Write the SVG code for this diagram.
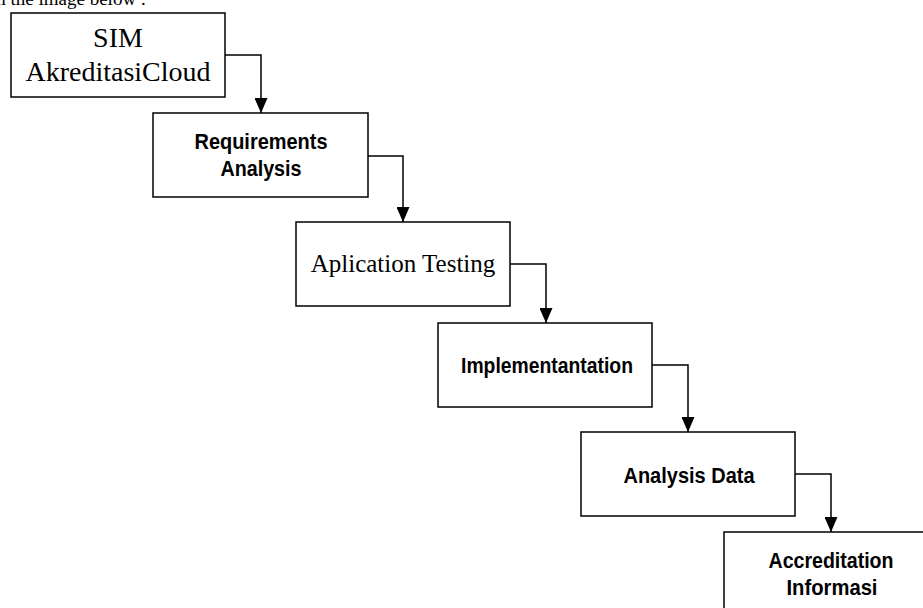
<svg xmlns="http://www.w3.org/2000/svg" width="923" height="608" viewBox="0 0 923 608">
  <style>
    .box { fill: #ffffff; stroke: #000000; stroke-width: 1.5; }
    .serif { font-family: "Liberation Serif", "Times New Roman", serif; fill: #000; text-anchor: middle; }
    .sans { font-family: "Liberation Sans", Arial, sans-serif; font-weight: bold; font-size: 21.5px; fill: #000; text-anchor: middle; }
    .conn { fill: none; stroke: #000000; stroke-width: 1.5; marker-end: url(#arrow); }
  </style>
  <defs>
    <marker id="arrow" markerWidth="13" markerHeight="16" refX="6.5" refY="15" orient="0" markerUnits="userSpaceOnUse" viewBox="0 0 13 16">
      <path d="M0,0 L13,0 L6.5,15 Z" fill="#000"/>
    </marker>
  </defs>
  <rect width="923" height="608" fill="#ffffff"/>
  <text x="-9" y="5" font-family="Liberation Serif, Times New Roman, serif" font-size="19" fill="#000">in the image below :</text>

  <g id="node-sim">
    <rect class="box" x="11" y="13" width="214" height="84"/>
    <text class="serif" x="118" y="47" font-size="28">SIM</text>
    <text class="serif" x="118" y="81" font-size="28">AkreditasiCloud</text>
  </g>
  <g id="node-requirements">
    <rect class="box" x="153" y="113" width="215" height="84"/>
    <text class="sans" x="261" y="149" textLength="133" lengthAdjust="spacingAndGlyphs">Requirements</text>
    <text class="sans" x="261" y="176" textLength="81" lengthAdjust="spacingAndGlyphs">Analysis</text>
  </g>
  <g id="node-testing">
    <rect class="box" x="296" y="222" width="214" height="84"/>
    <text class="serif" x="403" y="272" font-size="25">Aplication Testing</text>
  </g>
  <g id="node-implementation">
    <rect class="box" x="438" y="323" width="214" height="84"/>
    <text class="sans" x="547" y="373" textLength="172" lengthAdjust="spacingAndGlyphs">Implementantation</text>
  </g>
  <g id="node-analysis">
    <rect class="box" x="581" y="432" width="214" height="84"/>
    <text class="sans" x="689" y="483" textLength="131" lengthAdjust="spacingAndGlyphs">Analysis Data</text>
  </g>
  <g id="node-accreditation">
    <rect class="box" x="724" y="532" width="214" height="84"/>
    <text class="sans" x="831" y="568" textLength="125" lengthAdjust="spacingAndGlyphs">Accreditation</text>
    <text class="sans" x="832" y="595" textLength="91" lengthAdjust="spacingAndGlyphs">Informasi</text>
  </g>

  <g id="connectors">
    <path class="conn" d="M225,55 H261 V113"/>
    <path class="conn" d="M368,156 H403 V222"/>
    <path class="conn" d="M510,264 H546 V323"/>
    <path class="conn" d="M652,365 H688 V432"/>
    <path class="conn" d="M795,474 H831 V532"/>
  </g>
</svg>
